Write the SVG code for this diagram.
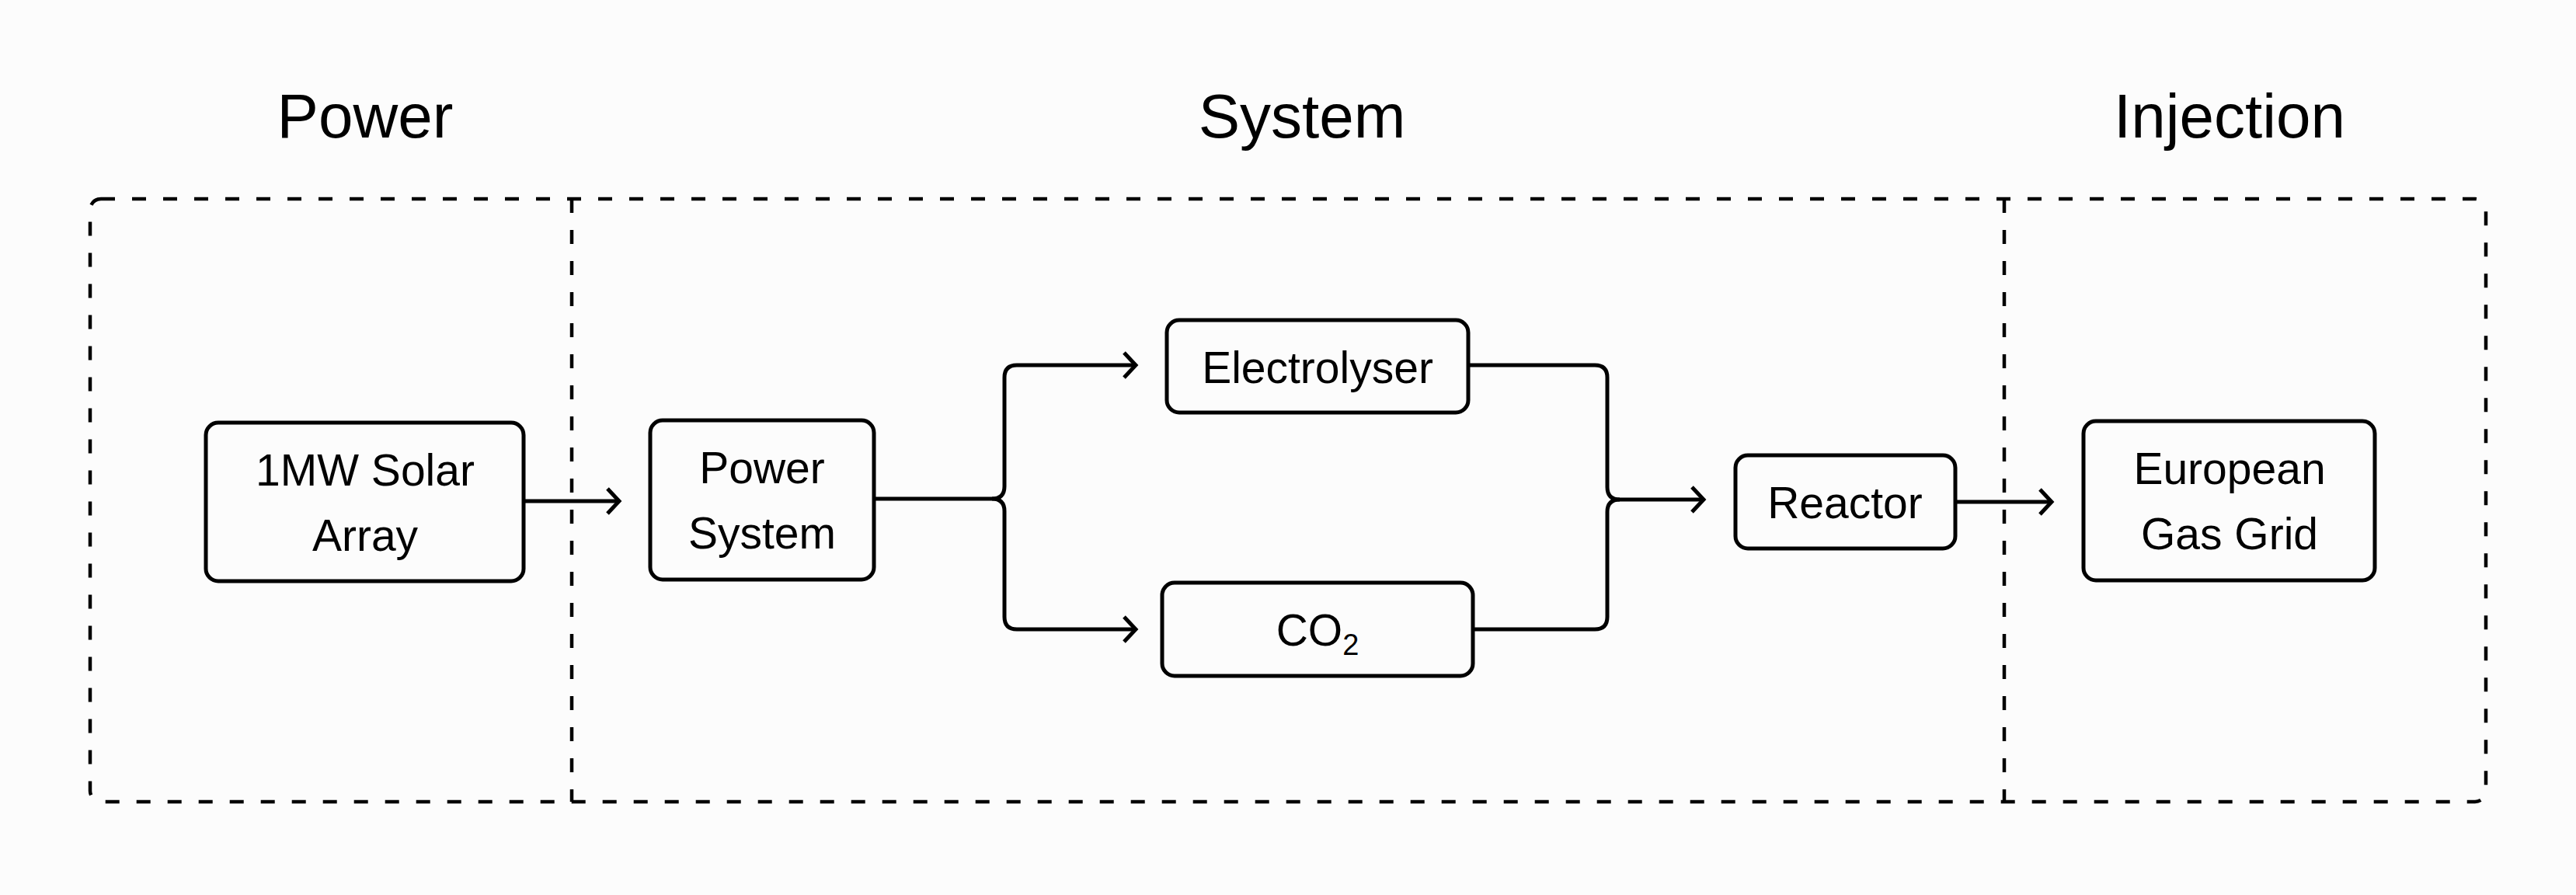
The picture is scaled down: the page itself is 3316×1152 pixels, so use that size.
<svg xmlns="http://www.w3.org/2000/svg" width="3316" height="1152" viewBox="0 0 3316 1152">
<style>
.bg{fill:#fcfcfc}
.title{font-family:"Liberation Sans",Arial,sans-serif;font-size:80px;fill:#000;text-anchor:middle}
.lbl{font-family:"Liberation Sans",Arial,sans-serif;font-size:57px;fill:#000;text-anchor:middle}
.box{fill:#fcfcfc;stroke:#000;stroke-width:5}
.dash{fill:none;stroke:#000;stroke-width:4.5;stroke-dasharray:18 22}
.conn{fill:none;stroke:#000;stroke-width:5}
</style>
<defs>
<marker id="arr" viewBox="-20 -20 24 40" markerWidth="24" markerHeight="40" refX="0" refY="0" orient="auto" markerUnits="userSpaceOnUse">
<path d="M-15,-16 L0,0 L-15,16" fill="none" stroke="#000" stroke-width="5"/>
</marker>
</defs>
<rect class="bg" x="0" y="0" width="3316" height="1152"/>
<g id="regions">
<rect class="dash" x="116" y="256" width="3084" height="776" rx="14"/>
<line class="dash" x1="736" y1="256" x2="736" y2="1032"/>
<line class="dash" x1="2580" y1="256" x2="2580" y2="1032"/>
<text class="title" x="470" y="177">Power</text>
<text class="title" x="1676" y="177">System</text>
<text class="title" x="2870" y="177">Injection</text>
</g>
<g id="connectors">
<path class="conn" d="M674,645 H797" marker-end="url(#arr)"/>
<path class="conn" d="M1125,642 H1277 Q1293,642 1293,626 V486 Q1293,470 1309,470 H1462" marker-end="url(#arr)"/>
<path class="conn" d="M1277,642 Q1293,642 1293,658 V794 Q1293,810 1309,810 H1462" marker-end="url(#arr)"/>
<path class="conn" d="M1890,470 H2053 Q2069,470 2069,486 V627 Q2069,643 2085,643 H2193" marker-end="url(#arr)"/>
<path class="conn" d="M1896,810 H2053 Q2069,810 2069,794 V659 Q2069,643 2085,643"/>
<path class="conn" d="M2517,646 H2641" marker-end="url(#arr)"/>
</g>
<g id="solar">
<rect class="box" x="265" y="544" width="409" height="204" rx="16"/>
<text class="lbl" x="470" y="625">1MW Solar</text>
<text class="lbl" x="470" y="709">Array</text>
</g>
<g id="power-system">
<rect class="box" x="837" y="541" width="288" height="205" rx="16"/>
<text class="lbl" x="981" y="622">Power</text>
<text class="lbl" x="981" y="706">System</text>
</g>
<g id="electrolyser">
<rect class="box" x="1502" y="412" width="388" height="119" rx="16"/>
<text class="lbl" x="1696" y="493">Electrolyser</text>
</g>
<g id="co2">
<rect class="box" x="1496" y="750" width="400" height="120" rx="16"/>
<text class="lbl" x="1696" y="831">CO<tspan font-size="38" dy="12">2</tspan></text>
</g>
<g id="reactor">
<rect class="box" x="2234" y="586" width="283" height="120" rx="16"/>
<text class="lbl" x="2375" y="667">Reactor</text>
</g>
<g id="gas-grid">
<rect class="box" x="2682" y="542" width="375" height="205" rx="16"/>
<text class="lbl" x="2870" y="623">European</text>
<text class="lbl" x="2870" y="707">Gas Grid</text>
</g>
</svg>
